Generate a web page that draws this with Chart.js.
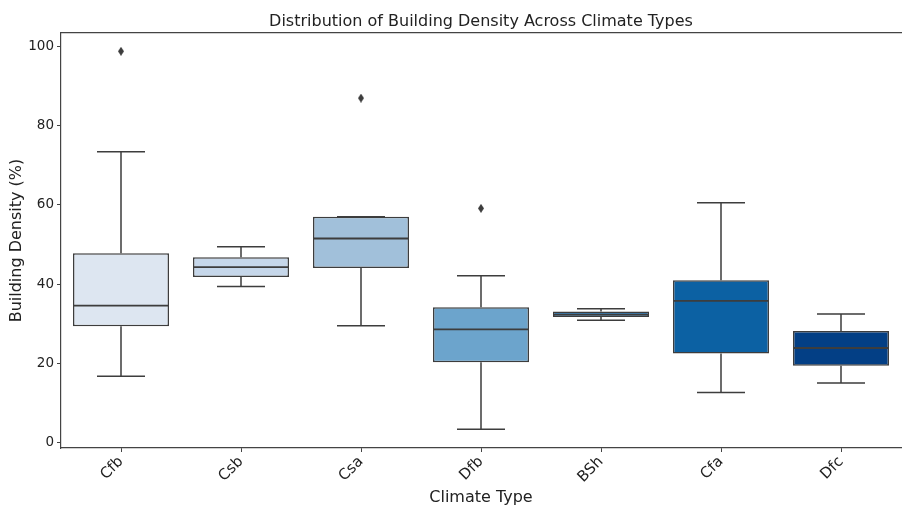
<!DOCTYPE html>
<html lang="en">
<head>
  <meta charset="UTF-8">
  <title>Building Density by Climate Type</title>
  <style>
    html, body {
      margin: 0;
      padding: 0;
      background: #fff;
      overflow: hidden;
    }
    .wrap {
      position: relative;
      width: 906px;
      height: 506px;
    }
  </style>
</head>
<body>
  <div class="wrap">
    <canvas id="chart"></canvas>
  </div>

  <script src="https://cdn.jsdelivr.net/npm/chart.js"></script>
  <script>
    // box plot summaries per climate type
    const categories = ['Cfb', 'Csb', 'Csa', 'Dfb', 'BSh', 'Cfa', 'Dfc'];
    const whiskerLow = [16.8, 39.4, 29.5, 3.4, 30.9, 12.7, 15.1];
    const q1 = [29.4, 41.8, 44.1, 20.3, 31.7, 22.5, 19.4];
    const median = [34.6, 44.3, 51.5, 28.6, 32.3, 35.8, 23.9];
    const q3 = [47.8, 46.8, 57.0, 34.2, 33.1, 41.0, 28.2];
    const whiskerHigh = [73.4, 49.4, 57.0, 42.1, 33.8, 60.5, 32.5];

    const outlierCats = ['Cfb', 'Csa', 'Dfb'];
    const outlierVals = [98.7, 86.9, 59.1];

    const yTicks = [0, 20, 40, 60, 80, 100];

    const boxColors = ['#dde6f1', '#c6d7ea', '#a1c0da', '#6ca4cc', '#3d86bf', '#0c61a3', '#033f85'];
    const lineColor = '#3d3d3d';
    const spineColor = '#444';
    const font = 'DejaVu Sans';

    // x runs on category positions 0..6 with half a slot either side
    const xMin = -0.5;
    const xMax = 6.5;
    // the plot spills this far past the right edge of the canvas
    const overhang = -10;

    // thin diamond marker for fliers
    const diamond = document.createElement('canvas');
    diamond.width = 6;
    diamond.height = 9;
    (function () {
      const c = diamond.getContext('2d');
      c.fillStyle = lineColor;
      c.beginPath();
      c.moveTo(3, 0);
      c.lineTo(6, 4.5);
      c.lineTo(3, 9);
      c.lineTo(0, 4.5);
      c.closePath();
      c.fill();
    })();

    // whiskers, caps and medians on top of the floating bars
    const boxParts = {
      id: 'boxParts',
      afterDatasetsDraw(chart) {
        const ctx = chart.ctx;
        const x = chart.scales.x;
        const y = chart.scales.y;
        const meta = chart.getDatasetMeta(0);
        ctx.save();
        ctx.strokeStyle = lineColor;
        meta.data.forEach((bar, i) => {
          const cx = x.getPixelForValue(i);
          const half = bar.width / 2;
          const cap = half / 2;
          const yLo = y.getPixelForValue(whiskerLow[i]);
          const yQ1 = y.getPixelForValue(q1[i]);
          const yQ3 = y.getPixelForValue(q3[i]);
          const yHi = y.getPixelForValue(whiskerHigh[i]);
          const yMed = y.getPixelForValue(median[i]);
          ctx.lineWidth = 1.5;
          ctx.beginPath();
          ctx.moveTo(cx, yQ1); ctx.lineTo(cx, yLo);
          ctx.moveTo(cx - cap, yLo); ctx.lineTo(cx + cap, yLo);
          ctx.moveTo(cx, yQ3); ctx.lineTo(cx, yHi);
          ctx.moveTo(cx - cap, yHi); ctx.lineTo(cx + cap, yHi);
          ctx.stroke();
          ctx.lineWidth = 1.8;
          ctx.beginPath();
          ctx.moveTo(cx - half, yMed); ctx.lineTo(cx + half, yMed);
          ctx.stroke();
        });
        ctx.restore();
      }
    };

    new Chart(document.getElementById('chart'), {
      type: 'bar',
      data: {
        datasets: [
          {
            type: 'bar',
            data: categories.map((c, i) => ({ x: i, y: [q1[i], q3[i]] })),
            backgroundColor: boxColors,
            borderColor: lineColor,
            borderWidth: 1.5,
            borderSkipped: false,
            categoryPercentage: 1,
            barPercentage: 0.8
          },
          {
            type: 'scatter',
            data: outlierCats.map((c, i) => ({ x: categories.indexOf(c), y: outlierVals[i] })),
            pointStyle: diamond,
            pointRadius: 4
          }
        ]
      },
      options: {
        responsive: true,
        maintainAspectRatio: false,
        devicePixelRatio: 1,
        animation: false,
        layout: { padding: { left: 0, top: 0, bottom: 0, right: overhang } },
        plugins: {
          legend: { display: false },
          tooltip: { enabled: false }
        },
        scales: {
          x: {
            type: 'linear',
            offset: false,
            min: xMin,
            max: xMax,
            grid: {
              offset: false,
              drawOnChartArea: false,
              drawTicks: true,
              tickLength: 4,
              color: spineColor
            },
            border: { display: true, color: spineColor, width: 1.2 },
            afterBuildTicks(scale) {
              scale.ticks = categories.map((c, i) => ({ value: i }));
            },
            ticks: {
              autoSkip: false,
              minRotation: 45,
              maxRotation: 45,
              color: '#222',
              padding: 1,
              font: { family: font, size: 15 },
              callback: (v) => categories[v]
            },
            title: {
              display: true,
              text: 'Climate Type',
              color: '#222',
              font: { family: font, size: 16, lineHeight: 1 },
              padding: { top: 0, bottom: 0 }
            },
            afterFit(scale) {
              scale.height = 58;
              scale.paddingRight = overhang;
            }
          },
          // top axis: carries the top spine and the chart title, centred over the plot
          top: {
            type: 'linear',
            position: 'top',
            offset: false,
            min: xMin,
            max: xMax,
            grid: { offset: false, drawOnChartArea: false, drawTicks: false },
            border: { display: true, color: spineColor, width: 1.2 },
            ticks: { display: false },
            title: {
              display: true,
              text: 'Distribution of Building Density Across Climate Types',
              color: '#222',
              font: { family: font, size: 16, lineHeight: 1.2 },
              padding: { top: 12, bottom: 0 }
            },
            afterFit(scale) {
              scale.height = 33;
              scale.paddingRight = overhang;
            }
          },
          y: {
            min: -1.3,
            max: 103.3,
            grid: {
              drawOnChartArea: false,
              drawTicks: true,
              tickLength: 4,
              color: spineColor
            },
            border: { display: true, color: spineColor, width: 1.2 },
            afterBuildTicks(scale) {
              scale.ticks = yTicks.map(v => ({ value: v }));
            },
            ticks: {
              color: '#222',
              padding: 3,
              font: { family: font, size: 13.5 }
            },
            title: {
              display: true,
              text: 'Building Density (%)',
              color: '#222',
              font: { family: font, size: 16, lineHeight: 1.2 },
              padding: { top: 7, bottom: 0 }
            },
            afterFit(scale) {
              scale.width = 61;
              scale.paddingRight = overhang;
            }
          }
        }
      },
      plugins: [boxParts]
    });
  </script>
</body>
</html>
